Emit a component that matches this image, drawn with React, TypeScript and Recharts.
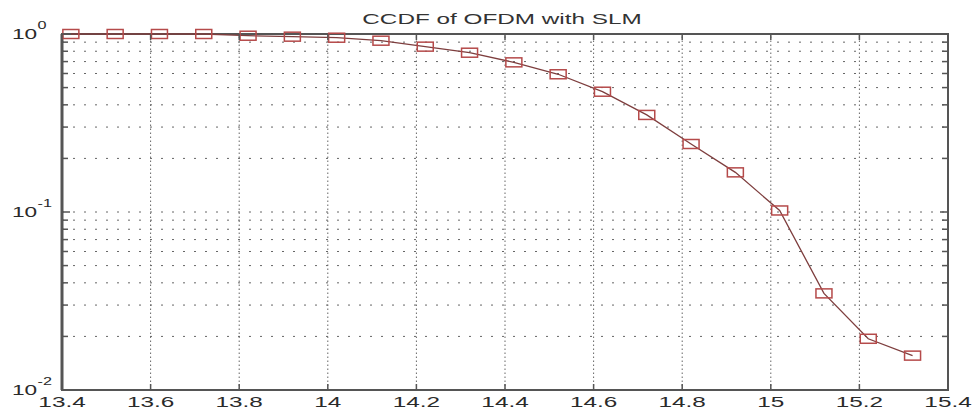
import React from 'react'
import { LineChart, Line, XAxis, YAxis, ReferenceLine, ReferenceArea } from 'recharts'

// PAPR threshold (dB) at each marker
const paprDb = [13.42, 13.52, 13.62, 13.72, 13.82, 13.92, 14.02, 14.12, 14.22, 14.32, 14.42, 14.52, 14.62, 14.72, 14.82, 14.92, 15.02, 15.12, 15.22, 15.32]
// CCDF
const ccdf = [1, 1, 1, 1, 0.978, 0.966, 0.953, 0.917, 0.849, 0.785, 0.693, 0.594, 0.474, 0.351, 0.241, 0.167, 0.102, 0.0349, 0.0194, 0.0156]

const xTicks = [13.4, 13.6, 13.8, 14, 14.2, 14.4, 14.6, 14.8, 15, 15.2, 15.4]
const xGrid = [13.6, 13.8, 14, 14.2, 14.4, 14.6, 14.8, 15, 15.2]
const yDecades = [0.01, 0.1, 1]
const yExponents = ['-2', '-1', '0']
const yMinor = [0.02, 0.03, 0.04, 0.05, 0.06, 0.07, 0.08, 0.09, 0.1, 0.2, 0.3, 0.4, 0.5, 0.6, 0.7, 0.8, 0.9]
const yTicks = [0.01, ...yMinor, 1]

const data = paprDb.map((x, i) => ({ x, y: ccdf[i] }))

const W = 972
const H = 410
const LEFT = 62
const RIGHT = 948
const TOP = 34
const BOTTOM = 390
const STRETCH = 1.62
const FONT = '"Liberation Sans", Arial, sans-serif'
const AXIS = '#555'
const GRID = '#666'

const XTick = (props: any) => {
  const { x, payload } = props
  const label = String(payload.value)
  return (
    <g>
      <line x1={x} x2={x} y1={BOTTOM} y2={BOTTOM - 6} stroke={AXIS} strokeWidth={1.5} />
      <line x1={x} x2={x} y1={TOP} y2={TOP + 6} stroke={AXIS} strokeWidth={1.5} />
      <g transform={`translate(${x},407) scale(${STRETCH},1)`}>
        <text x={0} y={0} textAnchor="middle" fontSize={15} fontFamily={FONT} fill="#2a2a2a">
          {label}
        </text>
      </g>
    </g>
  )
}

const YTick = (props: any) => {
  const { y, payload } = props
  const idx = yDecades.findIndex((d) => Math.abs(d - payload.value) < 1e-9)
  const major = idx >= 0
  const len = major ? 8 : 6
  return (
    <g>
      <line x1={LEFT} x2={LEFT + len} y1={y} y2={y} stroke={AXIS} strokeWidth={1.5} />
      <line x1={RIGHT} x2={RIGHT - len} y1={y} y2={y} stroke={AXIS} strokeWidth={1.5} />
      {major && (
        <g transform={`translate(12,${y + 5}) scale(${STRETCH},1)`} fontFamily={FONT} fill="#2a2a2a">
          <text x={0} y={0} fontSize={14}>10</text>
          <text x={15.8} y={-10} fontSize={10}>{yExponents[idx]}</text>
        </g>
      )}
    </g>
  )
}

const Marker = (props: any) => {
  const { cx, cy, index } = props
  return (
    <rect key={`m-${index}`} x={cx - 8} y={cy - 4.5} width={16} height={9} fill="none" stroke="#b54a4a" strokeWidth={1.5} />
  )
}

export default function App() {
  return (
    <div style={{ position: 'relative', width: W, height: H, background: '#fff' }}>
      <style>{'body{margin:0}'}</style>
      <svg width={W} height={40} style={{ position: 'absolute', left: 0, top: 0 }}>
        <g transform={`translate(${(LEFT + RIGHT) / 2 - 3},24) scale(${STRETCH},1)`}>
          <text x={0} y={0} textAnchor="middle" fontSize={15} fontFamily={FONT} fill="#333">
            CCDF of OFDM with SLM
          </text>
        </g>
      </svg>
      <LineChart width={W} height={H} data={data} margin={{ top: TOP, right: W - RIGHT, bottom: 0, left: 0 }}>
        <XAxis
          dataKey="x"
          type="number"
          domain={[13.4, 15.4]}
          ticks={xTicks}
          interval={0}
          height={H - BOTTOM}
          tickLine={false}
          axisLine={false}
          tick={<XTick />}
        />
        <YAxis
          type="number"
          scale="log"
          domain={[0.01, 1]}
          ticks={yTicks}
          interval={0}
          width={LEFT}
          tickLine={false}
          axisLine={{ stroke: AXIS, strokeWidth: 3 }}
          tick={<YTick />}
        />
        {yMinor.map((v) => (
          <ReferenceLine key={`h-${v}`} y={v} stroke={GRID} strokeWidth={1} strokeDasharray="2 9" />
        ))}
        {xGrid.map((v) => (
          <ReferenceLine key={`v-${v}`} x={v} stroke={GRID} strokeWidth={1} strokeDasharray="1.5 2.5" />
        ))}
        <ReferenceArea x1={13.4} x2={15.4} y1={0.01} y2={1} fill="none" stroke={AXIS} strokeWidth={2} />
        <Line
          dataKey="y"
          type="linear"
          stroke="#7e3e3e"
          strokeWidth={1.3}
          dot={Marker}
          activeDot={false}
          isAnimationActive={false}
        />
      </LineChart>
    </div>
  )
}
